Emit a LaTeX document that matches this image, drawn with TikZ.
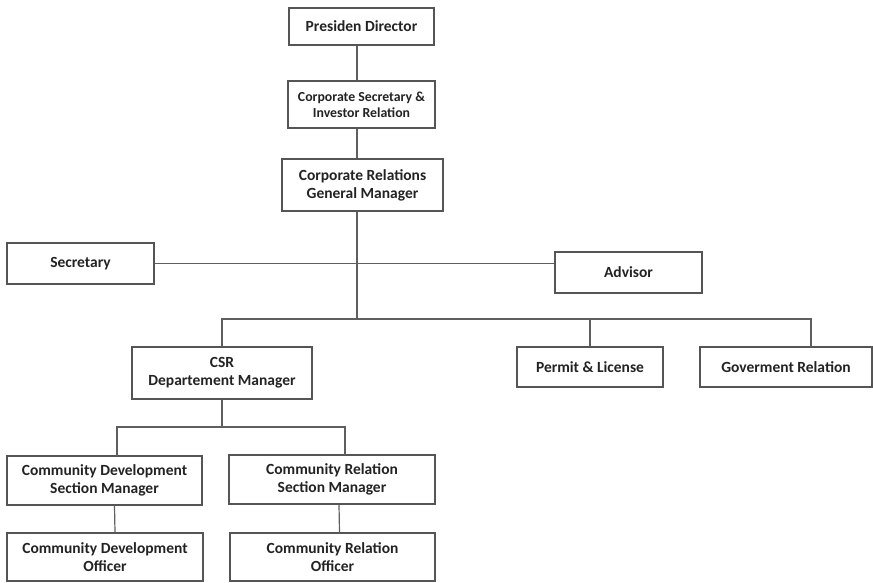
\documentclass[tikz,border=0pt]{standalone}
\usepackage{fontspec}
\setmainfont{Carlito}
\usepackage{tikz}
\usetikzlibrary{positioning,calc}
\definecolor{boxline}{RGB}{85,85,85}
\definecolor{wire}{RGB}{95,95,95}
\definecolor{txtgray}{RGB}{35,35,35}

\begin{document}
\begin{tikzpicture}[
  x=1pt, y=-1pt,
  unit/.style={
    rectangle, draw=boxline, fill=white, line width=1.3pt,
    inner sep=0pt, align=center, text=txtgray,
    font=\fontsize{15.5}{18}\selectfont\bfseries
  },
  small/.style={font=\fontsize{13.8}{16}\selectfont\bfseries},
  wire/.style={draw=wire, line width=1.2pt}
]
  \useasboundingbox (0,0) rectangle (873,583);

  % top line of command
  \node[unit, minimum width=145, minimum height=37] (pd)   at (361.5,26.5) {Presiden Director};
  \node[unit, small, minimum width=147, minimum height=47] (csir) at (361.5,104.5) {Corporate Secretary \&\\Investor Relation};
  \node[unit, minimum width=161, minimum height=52] (crgm) at (362.5,185) {Corporate Relations\\General Manager};

  % staff
  \node[unit, minimum width=147, minimum height=41] (sec) at (80.5,263.5) {Secretary};
  \node[unit, minimum width=147, minimum height=41] (adv) at (628.5,272.5) {Advisor};

  % departments
  \node[unit, minimum width=180, minimum height=52] (csr) at (222,373) {CSR\\Departement Manager};
  \node[unit, minimum width=146, minimum height=40] (pl)  at (590,367) {Permit \& License};
  \node[unit, minimum width=172, minimum height=40] (gr)  at (786,367) {Goverment Relation};

  % sections
  \node[unit, minimum width=195, minimum height=49] (cdsm) at (104.5,480.5) {Community Development\\Section Manager};
  \node[unit, minimum width=206, minimum height=49] (crsm) at (332,479.5) {Community Relation\\Section Manager};
  \node[unit, minimum width=196, minimum height=48] (cdo)  at (105,557) {Community Development\\Officer};
  \node[unit, minimum width=205, minimum height=48] (cro)  at (332.5,557) {Community Relation\\Officer};

  \coordinate (hub)   at (357,319);
  \coordinate (grtap) at (811,347);
  \coordinate (sub)   at (222,427);
  \coordinate (cdtap) at (117,456);
  \coordinate (crtap) at (345,455);

  \draw[wire] (pd.south -| hub) -- (csir.north -| hub);
  \draw[wire] (csir.south -| hub) -- (crgm.north -| hub);
  \draw[wire] (crgm.south -| hub) -- (hub);
  \draw[wire] (sec.east) -- (sec.east -| adv.west);
  \draw[wire] (csr.north) |- (hub) -| (grtap);
  \draw[wire] (pl.north) -- (pl.north |- hub);
  \draw[wire] (csr.south) -- (sub);
  \draw[wire] (cdtap) |- (sub) -| (crtap);
  \draw[wire] ([xshift=10]cdsm.south) -- ([xshift=10]cdo.north);
  \draw[wire] ([xshift=7]crsm.south) -- ([xshift=7]cro.north);
\end{tikzpicture}
\end{document}
